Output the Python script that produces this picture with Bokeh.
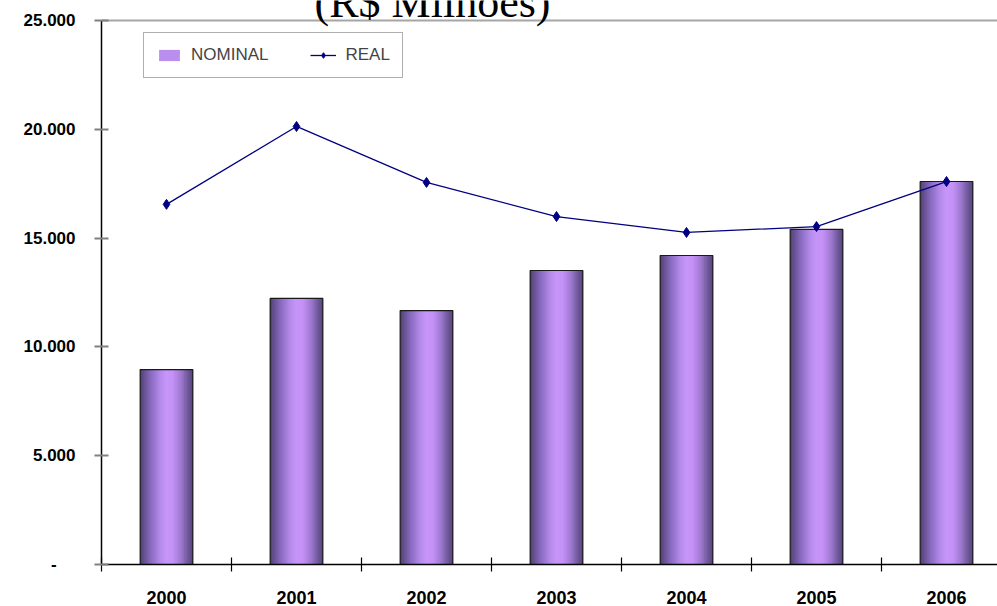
import numpy as np
from bokeh.plotting import figure
from bokeh.models import (FixedTicker, Label, Legend, LegendItem, Range1d,
                          ColumnDataSource)
from bokeh.embed import file_html
from bokeh.resources import INLINE

# ---- data ----
categories = ["2000", "2001", "2002", "2003", "2004", "2005", "2006"]
nominal = [8960, 12230, 11670, 13510, 14200, 15400, 17600]
real = [16550, 20130, 17560, 15990, 15260, 15530, 17600]
y_ticks = [0, 5000, 10000, 15000, 20000, 25000]
y_tick_labels = ["-\u00a0\u00a0\u00a0\u00a0", "5.000", "10.000", "15.000", "20.000", "25.000"]
title_text = "(R$ Milhões)"

# ---- layout / style ----
n = len(categories)
pos = np.arange(n) + 0.5
bar_w = 0.405
n_strips = 30

# cylinder-like shading profile across a bar
kp_t = [0.0, 0.05, 0.2, 0.38, 0.5, 0.62, 0.78, 0.9, 1.0]
kp_c = [(0x4e, 0x3e, 0x6c), (0x60, 0x4c, 0x88), (0x88, 0x6a, 0xc0), (0xb4, 0x8a, 0xea),
        (0xc8, 0x96, 0xfa), (0xc4, 0x92, 0xf6), (0x9c, 0x78, 0xce), (0x72, 0x5a, 0x9e),
        (0x56, 0x44, 0x76)]
edges = np.arange(n_strips) / n_strips          # left edge of each strip (fraction)
mid = edges + 0.5 / n_strips
strip_colors = []
for tt in mid:
    rgb = [int(round(np.interp(tt, kp_t, [c[k] for c in kp_c]))) for k in range(3)]
    strip_colors.append("#%02x%02x%02x" % tuple(rgb))
# each strip spans from its left edge to the bar's right edge (nested, no seams)
strip_w = (1.0 - edges) * bar_w
strip_off = (edges * bar_w + strip_w / 2.0) - bar_w / 2.0

sx, sws, stop, scol = [], [], [], []
for i in range(n):
    for j in range(n_strips):
        sx.append(pos[i] + strip_off[j])
        sws.append(strip_w[j])
        stop.append(nominal[i])
        scol.append(strip_colors[j])
strip_src = ColumnDataSource(dict(x=sx, w=sws, top=stop, color=scol))

W, H = 997, 606
frame_left, frame_w = 101, W - 101
cat_px = 130.0
bottom_pad = 42
frame_h = H - bottom_pad          # frame reaches the top edge of the canvas
top_gap = 20                      # pixels between the canvas top and the 25.000 line
y_end = y_ticks[-1] * frame_h / (frame_h - top_gap)

p = figure(width=W, height=H, output_backend="svg", toolbar_location=None,
           x_range=Range1d(0, frame_w / cat_px), y_range=Range1d(0, y_end),
           min_border_left=frame_left, min_border_right=0,
           min_border_top=0, min_border_bottom=bottom_pad)
p.outline_line_color = None
p.background_fill_color = "white"
p.border_fill_color = "white"

r_strips = p.vbar(x="x", top="top", width="w", bottom=0, source=strip_src,
                  fill_color="color", line_color=None)
r_outline = p.vbar(x=pos, top=nominal, width=bar_w, bottom=0, fill_color=None,
                   line_color="#1a1a1a", line_width=1.2)

r_line = p.line(pos, real, line_color="#000080", line_width=1.3)
r_pts = p.scatter(pos, real, marker="diamond", size=10, fill_color="#000080",
                  line_color="#000080")

# axes
xa = p.xaxis[0]
xa.ticker = FixedTicker(ticks=list(pos), minor_ticks=list(range(n + 1)))
xa.major_label_overrides = {float(pv): c for pv, c in zip(pos, categories)}
xa.major_tick_in = 0
xa.major_tick_out = 0
xa.minor_tick_in = 7
xa.minor_tick_out = 7
xa.minor_tick_line_color = "black"
xa.minor_tick_line_width = 1.2
xa.axis_line_color = "black"
xa.axis_line_width = 1.5
xa.major_label_text_font = "Liberation Sans"
xa.major_label_text_font_style = "bold"
xa.major_label_text_font_size = "18px"
xa.major_label_text_line_height = 1.0
xa.major_label_text_color = "black"
xa.major_label_standoff = 19

ya = p.yaxis[0]
ya.bounds = (y_ticks[0], y_ticks[-1])
ya.ticker = FixedTicker(ticks=y_ticks, minor_ticks=[])
ya.major_label_overrides = {v: s for v, s in zip(y_ticks, y_tick_labels)}
ya.major_tick_in = 7
ya.major_tick_out = 7
ya.major_tick_line_color = "#808080"
ya.major_tick_line_width = 2
ya.minor_tick_line_color = None
ya.axis_line_color = "black"
ya.axis_line_width = 1.5
ya.major_label_text_font = "Liberation Sans"
ya.major_label_text_font_style = "bold"
ya.major_label_text_font_size = "17px"
ya.major_label_text_color = "black"
ya.major_label_standoff = 19

p.xgrid.grid_line_color = None
p.ygrid.ticker = FixedTicker(ticks=[y_ticks[-1]])
p.ygrid.grid_line_color = "#a6a6a6"
p.ygrid.grid_line_width = 2

# legend
legend = Legend(items=[LegendItem(label="NOMINAL", renderers=[r_strips, r_outline], index=12),
                       LegendItem(label="REAL", renderers=[r_line, r_pts])],
                orientation="horizontal", location=(42, 486),
                glyph_width=26, glyph_height=14, label_height=20,
                label_standoff=9, spacing=42, padding=12, margin=0,
                label_text_font="Liberation Sans", label_text_font_size="17px",
                border_line_color="#606060", border_line_width=1,
                background_fill_color="white", background_fill_alpha=1)
p.add_layout(legend, "center")

# title (partially cut off at top like the reference)
p.add_layout(Label(x=2.5, y=y_ticks[-1], x_offset=6, y_offset=18, text=title_text,
                   text_font="Liberation Serif", text_font_size="44px",
                   text_align="center", text_baseline="alphabetic", text_color="black",
                   level="overlay"))

open("out.html", "w").write(file_html(p, INLINE))
